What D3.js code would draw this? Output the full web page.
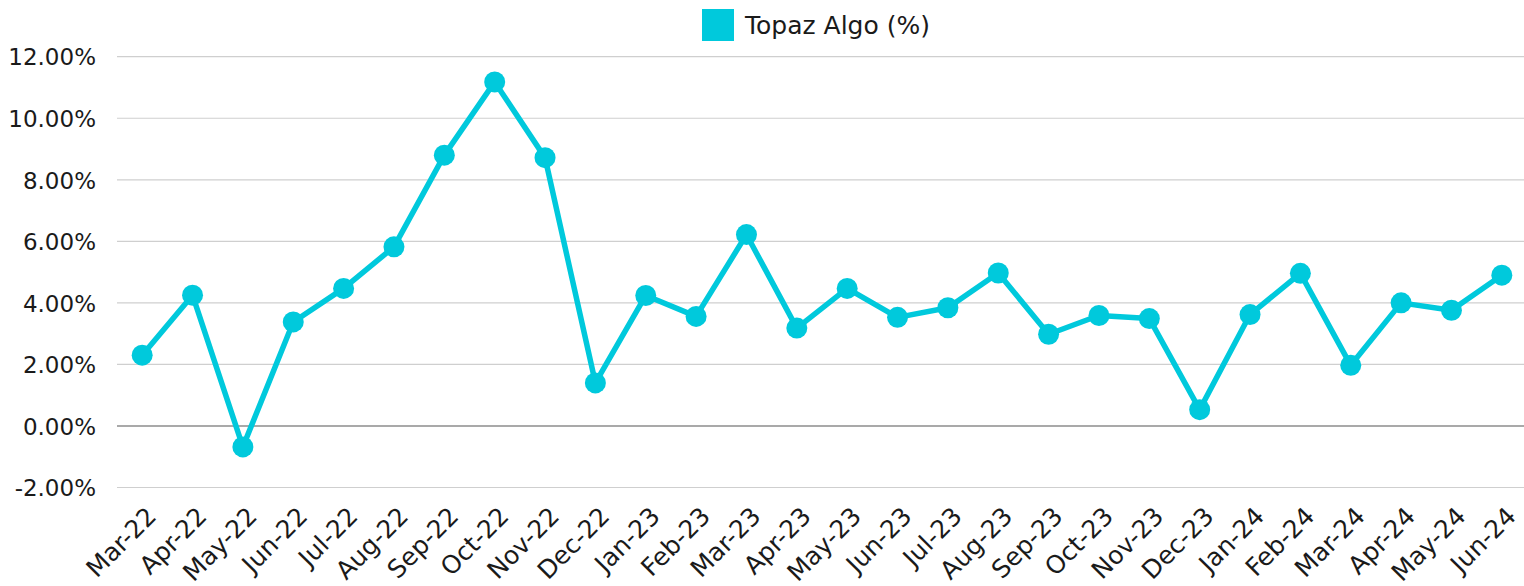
<!DOCTYPE html>
<html><head><meta charset="utf-8">
<script src="https://cdn.jsdelivr.net/npm/d3@7"></script>
<style>
html,body{margin:0;padding:0;background:#fff;}
svg{display:block;font-family:"DejaVu Sans",sans-serif;}
</style></head>
<body>
<svg id="chart" width="1524" height="586"></svg>
<script>
const categories = ["Mar-22","Apr-22","May-22","Jun-22","Jul-22","Aug-22","Sep-22","Oct-22","Nov-22","Dec-22",
  "Jan-23","Feb-23","Mar-23","Apr-23","May-23","Jun-23","Jul-23","Aug-23","Sep-23","Oct-23","Nov-23","Dec-23",
  "Jan-24","Feb-24","Mar-24","Apr-24","May-24","Jun-24"];
const values = [2.30,4.25,-0.68,3.38,4.47,5.82,8.80,11.18,8.72,1.40,
  4.24,3.56,6.22,3.18,4.47,3.53,3.84,4.97,2.98,3.59,3.49,0.53,
  3.62,4.96,1.97,4.00,3.76,4.90];
const seriesName = "Topaz Algo (%)";
const yTicks = [-2,0,2,4,6,8,10,12];

const color = "#00c9dc";
const svg = d3.select("#chart");
const mLeft = 117, mRight = 1527, mTop = 56.7, mBottom = 487.5;

const x = d3.scalePoint().domain(categories).range([mLeft, mRight]).padding(0.5);
const y = d3.scaleLinear().domain([-2, 12]).range([mBottom, mTop]);

// gridlines
svg.append("g").selectAll("line").data(yTicks).join("line")
  .attr("x1", mLeft).attr("x2", 1524)
  .attr("y1", d => y(d)).attr("y2", d => y(d))
  .attr("stroke", d => d === 0 ? "#8c8c8c" : "#cfcfcf")
  .attr("stroke-width", d => d === 0 ? 1.5 : 1.2);

// y axis labels
const yAxis = d3.axisLeft(y).tickValues(yTicks).tickSize(0).tickPadding(0)
  .tickFormat(d => d.toFixed(2) + "%");
const gy = svg.append("g").attr("transform", `translate(96,0)`).call(yAxis);
gy.select(".domain").remove();
gy.selectAll("text").attr("font-size", 23).attr("fill", "#1a1a1a")
  .attr("font-family", "DejaVu Sans, sans-serif").attr("dy", "0.36em");

// x axis labels
const xAxis = d3.axisBottom(x).tickSize(0).tickPadding(0);
const gx = svg.append("g").attr("transform", `translate(0,${mBottom})`).call(xAxis);
gx.select(".domain").remove();
gx.selectAll("text")
  .attr("font-size", 25).attr("fill", "#1a1a1a")
  .attr("font-family", "DejaVu Sans, sans-serif")
  .attr("text-anchor", "end")
  .attr("dy", "0.35em")
  .attr("transform", "translate(9,24) rotate(-45)");

// line
const line = d3.line().x((d, i) => x(categories[i])).y(d => y(d));
svg.append("path").datum(values)
  .attr("d", line).attr("fill", "none")
  .attr("stroke", color).attr("stroke-width", 5.5)
  .attr("stroke-linejoin", "round");

svg.append("g").selectAll("circle").data(values).join("circle")
  .attr("cx", (d, i) => x(categories[i])).attr("cy", d => y(d))
  .attr("r", 10.5).attr("fill", color);

// legend
const lg = svg.append("g");
lg.append("rect").attr("x", 702).attr("y", 9).attr("width", 32).attr("height", 32).attr("fill", color);
lg.append("text").attr("x", 745).attr("y", 25).attr("dy", "0.36em")
  .attr("font-size", 25).attr("fill", "#1a1a1a").text(seriesName);
</script>
</body></html>
